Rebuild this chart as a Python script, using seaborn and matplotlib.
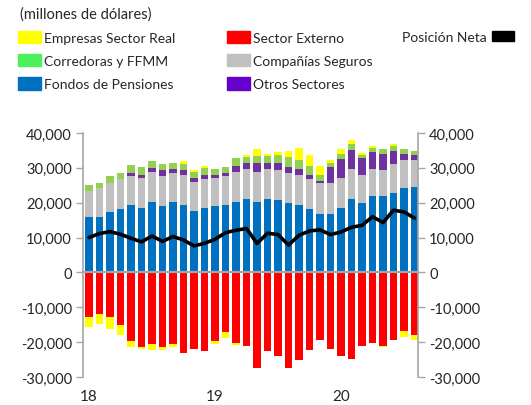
import numpy as np
import pandas as pd
import matplotlib
matplotlib.use("Agg")
import matplotlib.pyplot as plt
import matplotlib.transforms as mtransforms
from matplotlib.patches import Patch
from matplotlib.ticker import FuncFormatter
import seaborn as sns

# monthly data, millones de dolares
months = pd.date_range("2018-01-01", periods=32, freq="MS")

fondos = [15900, 15900, 17400, 18150, 19400, 18550, 20250, 19000, 20250, 19400, 17650, 18550,
          19000, 19400, 20250, 21000, 20250, 21000, 20750, 19850, 19400, 18150, 16800, 16750,
          18400, 21000, 19850, 21900, 21900, 22750, 24100, 24500]
companias = [7500, 8200, 8150, 8650, 8250, 8650, 8650, 8650, 8250, 8650, 8250, 8250,
             8200, 8250, 8650, 8650, 8650, 8750, 8650, 8750, 8650, 8650, 8750, 8800,
             8800, 8750, 8200, 7850, 7400, 8350, 8250, 7850]
otros = [-300, -300, 200, 0, 750, 850, 1150, 1750, 1250, 1250, 1300, 1250,
         850, 850, 1650, 1750, 2500, 1650, 2000, 1550, 1700, 1250, 750, 4600,
         5450, 5500, 4700, 4700, 4700, 3750, 1650, 1250]
externo = [-12400, -11500, -12750, -15000, -19700, -21400, -20550, -21400, -20550, -23150, -21900, -22650,
           -19700, -17100, -20150, -21000, -27450, -22650, -24000, -27450, -25250, -22300, -19300, -21900,
           -24000, -24850, -21000, -20150, -21000, -19300, -16700, -17950]
corredoras = [1650, 1500, 1900, 1800, 2300, 2100, 1900, 1700, 1750, 1800, 1700, 2000,
              1700, 1650, 2200, 1600, 2100, 2100, 2300, 2850, 2600, 2550, 1750, 1350,
              1400, 1450, 950, 1250, 1450, 1350, 1450, 1250]
empresas = [-3050, -3000, -3500, -2950, -1700, -500, -1750, -900, -850, 850, 500, 550,
            -850, -1800, -750, 700, 1800, 500, 750, 1950, 3350, 3200, 2550, 850,
            1250, 1250, 500, 600, -400, 500, -1750, -1350]
neta = [10000, 11150, 11700, 10950, 9800, 8750, 10450, 8900, 10300, 9300, 7600, 8350,
        9500, 11400, 12100, 12600, 8300, 11250, 10850, 7850, 10650, 11900, 12200, 10850,
        11600, 12950, 13500, 16000, 14300, 17850, 17350, 15550]

# stacking order (as in the source workbook)
series = [
    ("Fondos de Pensiones", fondos, "#0070C0"),
    ("Compañías Seguros", companias, "#C0C0C0"),
    ("Otros Sectores", otros, "#7030A0"),
    ("Sector Externo", externo, "#FF0000"),
    ("Corredoras y FFMM", corredoras, "#92D050"),
    ("Empresas Sector Real", empresas, "#FFFF00"),
]

sns.set_style("white")
plt.rcParams["font.family"] = ["Lato", "DejaVu Sans"]
grey = "#A6A6A6"

fig = plt.figure(figsize=(5.31, 4.06), dpi=100)
ax = fig.add_axes([0.1563, 0.069, 0.6309, 0.601])

x = np.arange(len(months))
pos_base = np.zeros(len(x))
neg_base = np.zeros(len(x))
for name, vals, color in series:
    v = np.array(vals, dtype=float)
    bottom = np.where(v >= 0, pos_base, neg_base)
    ax.bar(x, v, bottom=bottom, width=0.72, color=color, linewidth=0)
    pos_base += np.clip(v, 0, None)
    neg_base += np.clip(v, None, 0)

sns.lineplot(x=x, y=neta, color="black", linewidth=2.6, ax=ax)

ax.set_xlim(-0.57, 31.33)
ax.set_ylim(-30000, 40000)
ax.set_yticks(range(-30000, 40001, 10000))
ax.yaxis.set_major_formatter(FuncFormatter(lambda v, p: f"{v:,.0f}"))
ax.tick_params(axis="y", direction="out", length=5, width=1, color=grey,
               left=True, right=True, labelleft=True, labelright=True,
               labelsize=10.5, pad=3)

# zero line doubles as the x axis, with ticks between years
ax.spines["bottom"].set_position(("data", 0))
jan = [i for i, m in enumerate(months) if m.month == 1]
ax.set_xticks([i - 0.5 for i in jan[1:]])
ax.tick_params(axis="x", direction="out", length=4, width=1, color=grey, labelbottom=False)
ax.set_xlabel("")
ax.set_ylabel("")
trans = mtransforms.blended_transform_factory(ax.transData, ax.transAxes)
for i in jan:
    ax.text(i, -0.078, months[i].strftime("%y"), transform=trans,
            ha="center", va="center", fontsize=11)

ax.spines["top"].set_visible(False)
for s in ["left", "right", "bottom"]:
    ax.spines[s].set_color(grey)
    ax.spines[s].set_linewidth(1.2)
ax.spines["bottom"].set_linewidth(1.6)

fig.text(0.037, 0.963, "(millones de dólares)", fontsize=10.5, va="center", ha="left")

handles = [
    Patch(color="#FFFF00", label="Empresas Sector Real"),
    Patch(color="#4CF05A", label="Corredoras y FFMM"),
    Patch(color="#0070C0", label="Fondos de Pensiones"),
    Patch(color="#FF0000", label="Sector Externo"),
    Patch(color="#C0C0C0", label="Compañías Seguros"),
    Patch(color="#6600CC", label="Otros Sectores"),
]
leg1 = fig.legend(handles=handles, ncol=2, loc="upper left", bbox_to_anchor=(0.034, 0.922),
                  frameon=False, fontsize=10, handlelength=1.65, handleheight=1.0,
                  handletextpad=0.25, columnspacing=3.7, labelspacing=0.74,
                  borderpad=0, borderaxespad=0)
leg2 = fig.legend(handles=[Patch(color="black", label="Posición Neta")], loc="upper left",
                  bbox_to_anchor=(0.757, 0.922), frameon=False, fontsize=10,
                  handlelength=1.55, handleheight=0.7, handletextpad=0.4, markerfirst=False,
                  borderpad=0, borderaxespad=0)

fig.savefig("out.png", dpi=100)
